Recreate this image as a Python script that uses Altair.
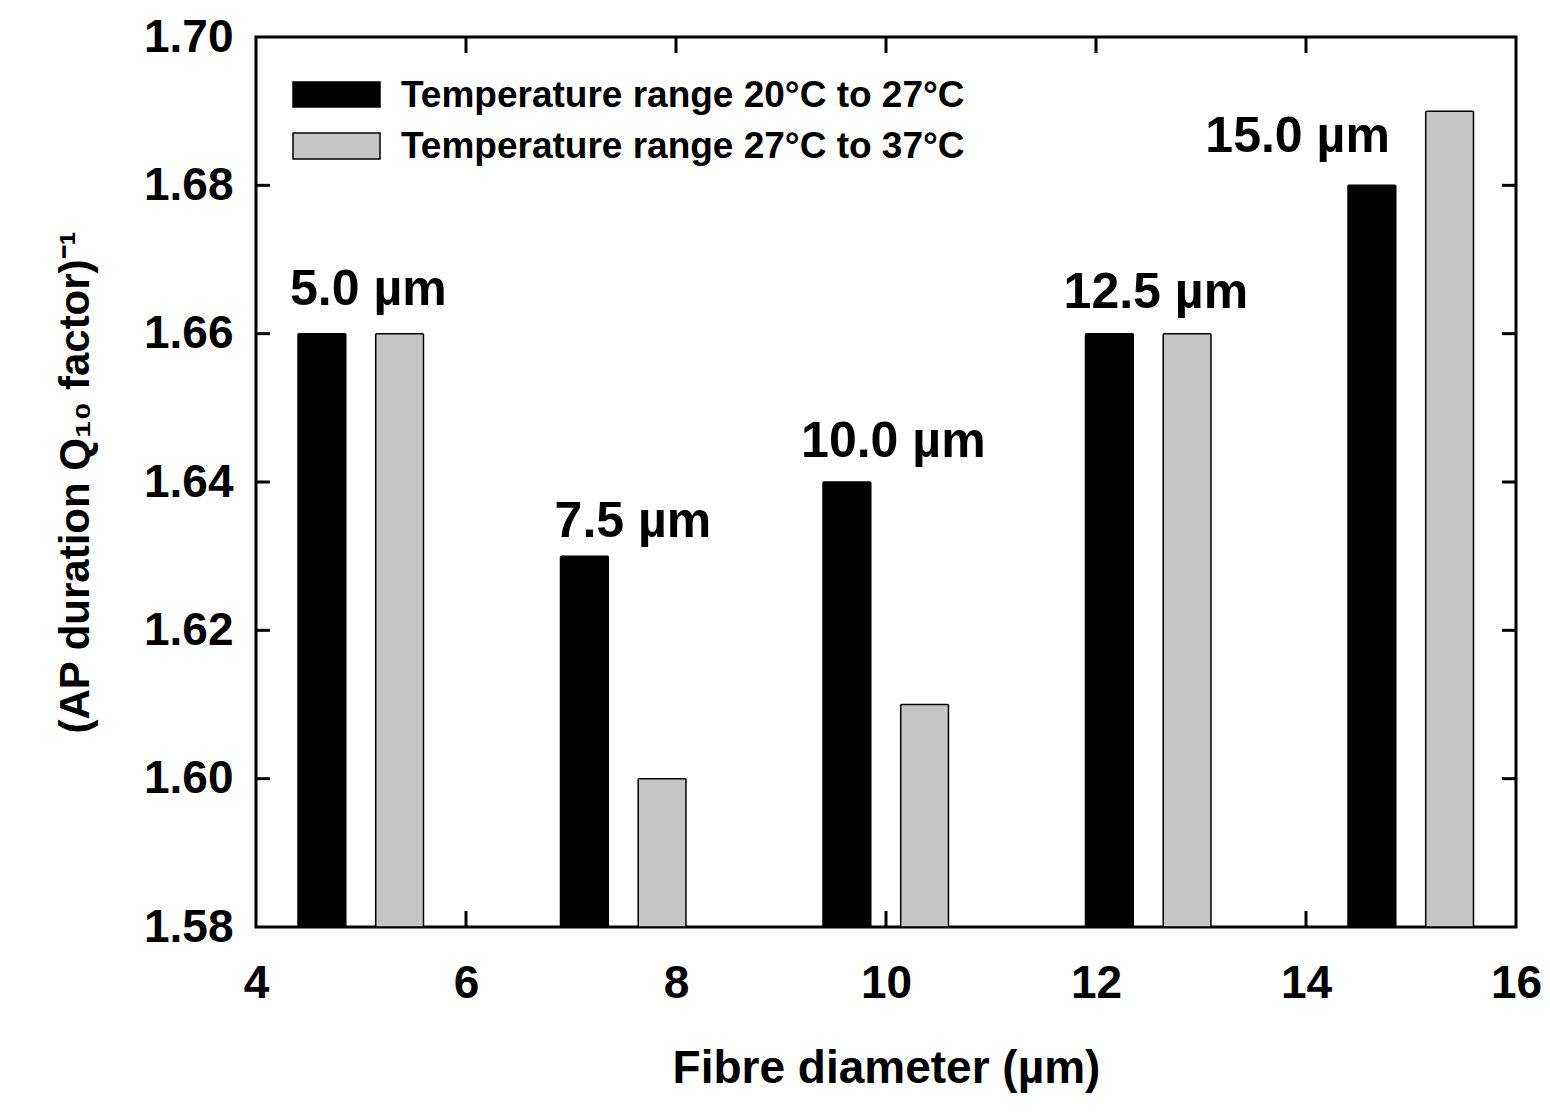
import altair as alt
import pandas as pd

# ---- data ----
diameters = [5.0, 7.5, 10.0, 12.5, 15.0]
q10_20_27 = [1.66, 1.63, 1.64, 1.66, 1.68]
q10_27_37 = [1.66, 1.60, 1.61, 1.66, 1.69]
series_names = ["Temperature range 20°C to 27°C", "Temperature range 27°C to 37°C"]
x_ticks = [4, 6, 8, 10, 12, 14, 16]
y_ticks = [1.58, 1.60, 1.62, 1.64, 1.66, 1.68, 1.70]
label_texts = ["5.0 µm", "7.5 µm", "10.0 µm", "12.5 µm", "15.0 µm"]
label_x = [5.07, 7.59, 10.07, 12.57, 13.92]
label_y = [1.6639, 1.6326, 1.6434, 1.6635, 1.6845]

W, H = 1260, 890
FONT = "Liberation Sans"

rows = []
for k, vals in enumerate([q10_20_27, q10_27_37]):
    for d, v in zip(diameters, vals):
        rows.append({"d": d, "k": k, "series": series_names[k], "value": v})
bars_df = pd.DataFrame(rows)

xscale = alt.Scale(domain=[4, 16], nice=False, zero=False)
yscale = alt.Scale(domain=[1.58, 1.70], nice=False, zero=False)
color_scale = alt.Scale(domain=series_names, range=["#000000", "#c6c6c6"])

bars = alt.Chart(bars_df).transform_calculate(
    lo="datum.d - 0.6 + datum.k * 0.74"
).transform_calculate(
    hi="datum.lo + 0.455"
).mark_bar(stroke="black", strokeWidth=1.5, cornerRadius=1).encode(
    x=alt.X("lo:Q", scale=xscale,
            axis=alt.Axis(values=x_ticks, format="d", title="Fibre diameter (µm)",
                          labelPadding=34, titlePadding=40, labelFlush=False,
                          titleFontSize=46)),
    x2="hi:Q",
    y=alt.Y("value:Q", scale=yscale,
            axis=alt.Axis(values=y_ticks, format=".2f", title="(AP duration Q₁₀ factor)⁻¹",
                          labelPadding=23, titlePadding=46, labelFlush=False,
                          titleFontSize=42)),
    y2=alt.datum(1.58),
    color=alt.Color("series:N", scale=color_scale, legend=None),
)

ytick_df = pd.DataFrame({"v": y_ticks[1:-1]})
xtick_df = pd.DataFrame({"v": x_ticks[1:-1]})
TL = 14
tick_style = dict(color="black", strokeWidth=3)
left_ticks = alt.Chart(ytick_df).mark_rule(**tick_style).encode(
    y=alt.Y("v:Q", scale=yscale), x=alt.value(0), x2=alt.value(TL))
right_ticks = alt.Chart(ytick_df).mark_rule(**tick_style).encode(
    y=alt.Y("v:Q", scale=yscale), x=alt.value(W - TL), x2=alt.value(W))
top_ticks = alt.Chart(xtick_df).mark_rule(**tick_style).encode(
    x=alt.X("v:Q", scale=xscale), y=alt.value(0), y2=alt.value(TL + 2))
bottom_ticks = alt.Chart(xtick_df).mark_rule(**tick_style).encode(
    x=alt.X("v:Q", scale=xscale), y=alt.value(H - TL - 2), y2=alt.value(H))

lab_df = pd.DataFrame({"t": label_texts, "x": label_x, "y": label_y})
labels = alt.Chart(lab_df).mark_text(
    font=FONT, fontSize=50, fontWeight="bold", color="black",
    align="center", baseline="alphabetic").encode(
    x=alt.X("x:Q", scale=xscale), y=alt.Y("y:Q", scale=yscale), text="t:N")

leg_df = pd.DataFrame({"series": series_names})
legend_layers = []
for i, (fill, y0, y1, yb) in enumerate([("#000000", 45, 70, 70), ("#c6c6c6", 96, 122, 121)]):
    sub = alt.Chart(leg_df).transform_filter(alt.datum.series == series_names[i])
    legend_layers.append(sub.mark_rect(fill=fill, stroke="black", strokeWidth=1.5).encode(
        x=alt.value(37), x2=alt.value(124), y=alt.value(y0), y2=alt.value(y1)))
    legend_layers.append(sub.mark_text(
        font=FONT, fontSize=37, fontWeight="bold", color="black",
        align="left", baseline="alphabetic").encode(
        x=alt.value(145), y=alt.value(yb), text="series:N"))

chart = alt.layer(
    left_ticks, right_ticks, top_ticks, bottom_ticks, bars, labels, *legend_layers
).properties(
    width=W, height=H,
    autosize=alt.AutoSizeParams(type="none"),
    padding={"left": 248, "top": 29, "right": 26, "bottom": 172},
).configure_view(
    stroke="black", strokeWidth=3
).configure_axis(
    domain=False, ticks=False, grid=False,
    labelFont=FONT, labelFontWeight="bold", labelFontSize=46, labelColor="black",
    titleFont=FONT, titleFontWeight="bold", titleColor="black",
)

chart.save("out.html", embed_options={"renderer": "svg", "actions": False})
